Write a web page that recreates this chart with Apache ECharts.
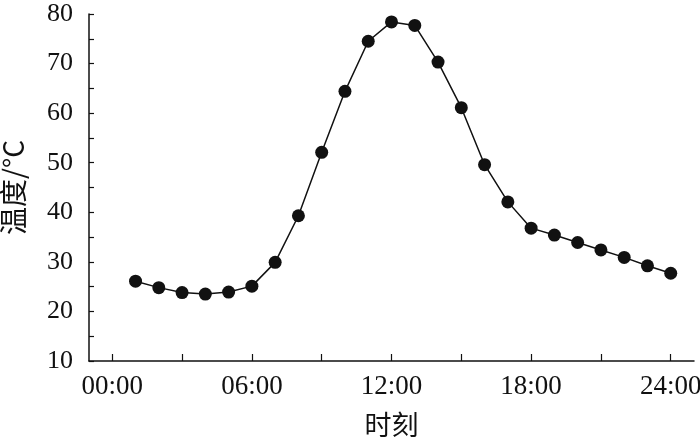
<!DOCTYPE html>
<html>
<head>
<meta charset="utf-8">
<script src="https://cdn.jsdelivr.net/npm/echarts@6/dist/echarts.min.js"></script>
<style>
  html, body { margin: 0; padding: 0; background: #fff; }
  #chart { width: 700px; height: 441px; }
</style>
</head>
<body>
<div id="chart"></div>
<script>
  // hours of the day (x) and measured temperature (y)
  var hours = [1, 2, 3, 4, 5, 6, 7, 8, 9, 10, 11, 12, 13, 14, 15, 16, 17, 18, 19, 20, 21, 22, 23, 24]
  var temps = [26.1, 24.8, 23.8, 23.5, 23.9, 25.1, 29.9, 39.3, 52.1, 64.4, 74.5, 78.4,
    77.7, 70.3, 61.1, 49.6, 42.1, 36.8, 35.4, 33.9, 32.4, 30.9, 29.2, 27.7]
  var xTicks = [0, 3, 6, 9, 12, 15, 18, 21, 24]
  var xLabels = [0, 6, 12, 18, 24]

  var serif = 'Liberation Serif'
  var cjk = 'Noto Sans CJK SC'

  var chart = echarts.init(document.getElementById('chart'))
  chart.setOption({
    animation: false,
    grid: {
      left: 89,
      right: 6,
      top: 14,
      bottom: 80,
      containLabel: false,
      outerBoundsMode: 'none'
    },
    xAxis: {
      type: 'value',
      min: -1,
      max: 25,
      name: '时刻',
      nameLocation: 'middle',
      nameGap: 50,
      nameTextStyle: { fontFamily: cjk, fontSize: 27, color: '#111' },
      splitLine: { show: false },
      axisLine: { onZero: false, lineStyle: { color: '#111', width: 1.5 } },
      axisTick: {
        inside: true,
        length: 7,
        customValues: xTicks,
        lineStyle: { color: '#111', width: 1.2 }
      },
      axisLabel: {
        customValues: xLabels,
        margin: 12,
        fontFamily: serif,
        fontSize: 27,
        color: '#111',
        formatter: function (v) {
          return (v < 10 ? '0' + v : '' + v) + ':00'
        }
      }
    },
    yAxis: {
      type: 'value',
      min: 10,
      max: 80,
      interval: 5,
      name: '温度/°C',
      nameLocation: 'middle',
      nameGap: 62,
      nameTextStyle: { fontFamily: cjk, fontSize: 28, color: '#111' },
      splitLine: { show: false },
      axisLine: { show: true, onZero: false, lineStyle: { color: '#111', width: 1.5 } },
      axisTick: {
        inside: true,
        length: 5,
        lineStyle: { color: '#111', width: 1.2 }
      },
      axisLabel: {
        margin: 16,
        fontFamily: serif,
        fontSize: 26,
        color: '#111',
        formatter: function (v) {
          return v % 10 === 0 ? '' + v : ''
        }
      }
    },
    series: [
      {
        type: 'line',
        data: hours.map(function (h, i) { return [h, temps[i]] }),
        symbol: 'circle',
        symbolSize: 13,
        itemStyle: { color: '#111' },
        lineStyle: { color: '#111', width: 1.5 }
      }
    ]
  })
</script>
</body>
</html>
